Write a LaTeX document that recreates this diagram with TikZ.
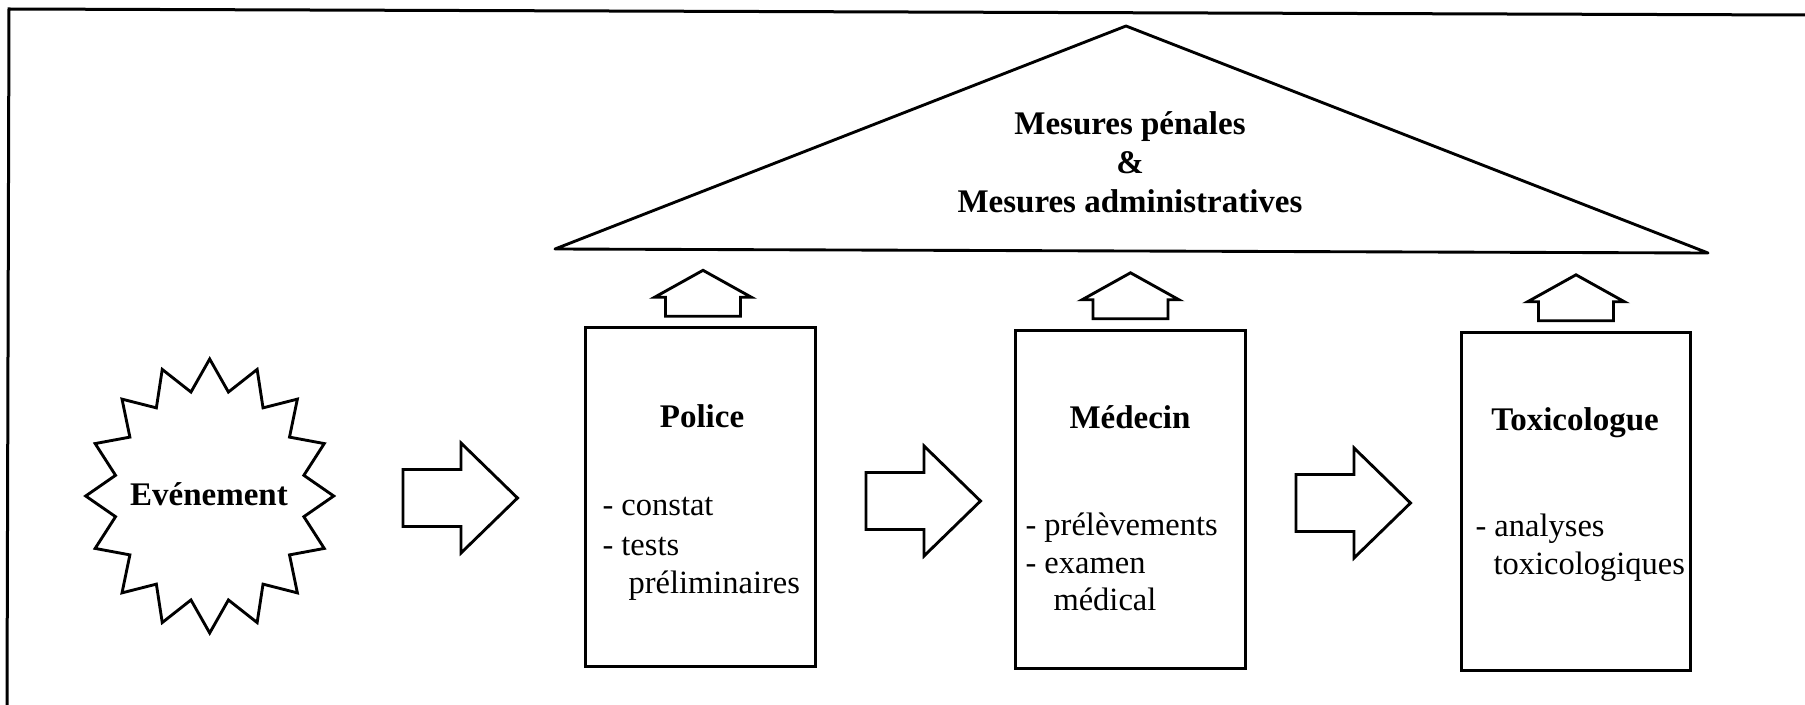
\documentclass[tikz,border=0pt]{standalone}
\usepackage{fontspec}
\setmainfont{Liberation Serif}
\usetikzlibrary{calc}
\begin{document}
\begin{tikzpicture}[x=0.4pt,y=-0.4pt,
  shapeline/.style={draw=black, line width=1.15pt, fill=white},
  boxstyle/.style={draw=black, line width=1.15pt, minimum width=91.8pt, minimum height=135.4pt, inner sep=0pt},
  titletext/.style={font=\fontsize{13.2}{15}\selectfont\bfseries, anchor=base, inner sep=0pt},
  listtext/.style={font=\fontsize{13}{15}\selectfont, anchor=base west, inner sep=0pt},
  rarrow/.pic={\draw[shapeline] (0,-28.5) -- (58,-28.5) -- (58,-55) -- (114.5,0) -- (58,55) -- (58,28.5) -- (0,28.5) -- cycle;},
  uarrow/.pic={\draw[shapeline] (-37.5,0) -- (-37.5,-19) -- (-48.5,-19) -- (0,-46) -- (48.5,-19) -- (37.5,-19) -- (37.5,0) -- cycle;}
]
\useasboundingbox (0,0) rectangle (1805,705);
% frame (left and top edges)
\coordinate (fbl) at (7,705);
\coordinate (ftl) at (9,9);
\coordinate (ftr) at (1805,15);
\draw[line width=1.2pt] (fbl) -- (ftl) -- (ftr);

% triangle
\coordinate (tA) at (1126,26);
\coordinate (tL) at (555,249);
\coordinate (tR) at (1708,253);
\draw[shapeline, line join=round] (tA) -- (tL) -- (tR) -- cycle;
\node[titletext] (m1) at (1130,135) {Mesures pénales};
\node[titletext] (m2) at (1130,174) {\&};
\node[titletext] (m3) at (1130,213) {Mesures administratives};

% star
\coordinate (sc) at (209.7,496);
\draw[shapeline] ($(sc)+(90:124 and 137)$)
  \foreach \k in {0,...,15} {
    -- ($(sc)+({90+22.5*\k+11.25}:96 and 106)$)
    -- ($(sc)+({90+22.5*(\k+1)}:124 and 137)$)
  } -- cycle;
\node[titletext] (ev) at (209,505) {Evénement};

% boxes
\node[boxstyle] (police) at (700.5,497) {};
\node[boxstyle] (medecin) at (1130.5,499.5) {};
\node[boxstyle] (toxi) at (1576,501.5) {};

\node[titletext] (tpol) at (702,427) {Police};
\node[titletext] (tmed) at (1130,428) {Médecin};
\node[titletext] (ttox) at (1575,430) {Toxicologue};

\node[listtext] (p1) at (602,515) {- constat};
\node[listtext] (p2) at (602,555) {- tests};
\node[listtext] (p3) at (628,593) {préliminaires};

\node[listtext] (d1) at (1025,535) {- prélèvements};
\node[listtext] (d2) at (1025,573) {- examen};
\node[listtext] (d3) at (1053,610) {médical};

\node[listtext] (x1) at (1475,536) {- analyses};
\node[listtext] (x2) at (1493,574) {toxicologiques};

% block arrows to the right
\pic at (403,498) {rarrow};
\pic at (866,501) {rarrow};
\pic at (1296,503) {rarrow};

% block arrows up
\pic at ($(police.north)+(2.5,-10)$) {uarrow};
\pic at ($(medecin.north)+(0,-10)$) {uarrow};
\pic at ($(toxi.north)+(0,-10)$) {uarrow};
\end{tikzpicture}
\end{document}
